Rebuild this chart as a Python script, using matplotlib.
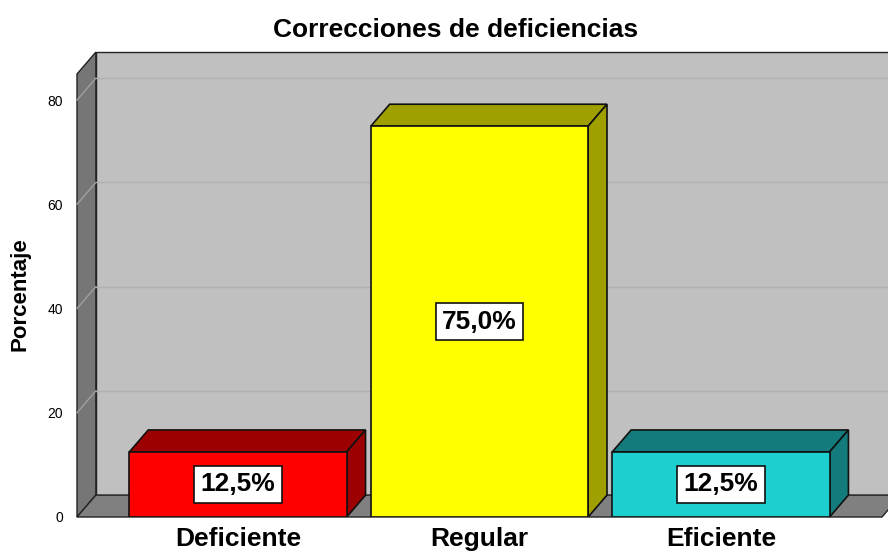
import matplotlib
matplotlib.use('Agg')
import matplotlib.pyplot as plt
from matplotlib.patches import Polygon, Rectangle

plt.rcParams['font.family'] = ['Liberation Sans', 'DejaVu Sans']

categories = ['Deficiente', 'Regular', 'Eficiente']
percentages = [12.5, 75.0, 12.5]
labels = ['12,5%', '75,0%', '12,5%']
front_colors = ['#ff0000', '#ffff00', '#1ecfcf']
shade_colors = ['#9c0000', '#9f9f00', '#137b7b']
yticks = [0, 20, 40, 60, 80]

# geometry (data units)
x0, x1 = -0.667, 2.667
ytop = 85
DX, DY = 0.078, 4.2
width = 0.9

fig = plt.figure(figsize=(8.88, 5.53), dpi=100)
ax = fig.add_axes([77 / 888, 36 / 553, (882 - 77) / 888, 443 / 553])
ax.set_xlim(x0, x1)
ax.set_ylim(0, ytop)
for s in ax.spines.values():
    s.set_visible(False)

edge = '#222222'
# back wall
ax.add_patch(Polygon([(x0 + DX, DY), (x1 + DX, DY), (x1 + DX, ytop + DY), (x0 + DX, ytop + DY)],
                     closed=True, fc='#c0c0c0', ec=edge, lw=1, clip_on=False, zorder=1))
# left wall
ax.add_patch(Polygon([(x0, 0), (x0 + DX, DY), (x0 + DX, ytop + DY), (x0, ytop)],
                     closed=True, fc='#767676', ec=edge, lw=1, clip_on=False, zorder=2))
# gridlines
for t in yticks[1:]:
    ax.plot([x0 + DX, x1 + DX], [t + DY, t + DY], color='#b0b0b0', lw=1, clip_on=False, zorder=2)
    ax.plot([x0, x0 + DX], [t, t + DY], color='#a0a0a0', lw=1, clip_on=False, zorder=3)
# floor
ax.add_patch(Polygon([(x0, 0), (x1, 0), (x1 + DX, DY), (x0 + DX, DY)],
                     closed=True, fc='#808080', ec=edge, lw=1, clip_on=False, zorder=3))

# bars
for i, v in enumerate(percentages):
    l, r = i - width / 2, i + width / 2
    ax.add_patch(Polygon([(l, v), (r, v), (r + DX, v + DY), (l + DX, v + DY)],
                         closed=True, fc=shade_colors[i], ec='#111111', lw=1.2, zorder=4))
    ax.add_patch(Polygon([(r, 0), (r + DX, DY), (r + DX, v + DY), (r, v)],
                         closed=True, fc=shade_colors[i], ec='#111111', lw=1.2, zorder=4))
    ax.add_patch(Rectangle((l, 0), width, v, fc=front_colors[i], ec='#111111', lw=1.2, zorder=5))
    ax.text(i, v / 2, labels[i], ha='center', va='center', fontsize=19, fontweight='bold', zorder=6,
            bbox=dict(boxstyle='square,pad=0.24', fc='white', ec='#111111', lw=1.2))

ax.set_yticks(yticks)
ax.set_yticklabels([str(t) for t in yticks], fontsize=10)
ax.tick_params(axis='y', length=0, pad=10)
ax.set_xticks(range(len(categories)))
ax.set_xticklabels(categories, fontsize=19, fontweight='bold')
ax.tick_params(axis='x', length=0, pad=7)

fig.text(20 / 888, 1 - 294 / 553, 'Porcentaje', rotation=90, ha='center', va='center',
         fontsize=16, fontweight='bold')
fig.text(456 / 888, 1 - 30 / 553, 'Correcciones de deficiencias', ha='center', va='center',
         fontsize=19, fontweight='bold')

fig.savefig('out.png', dpi=100, facecolor='white')
